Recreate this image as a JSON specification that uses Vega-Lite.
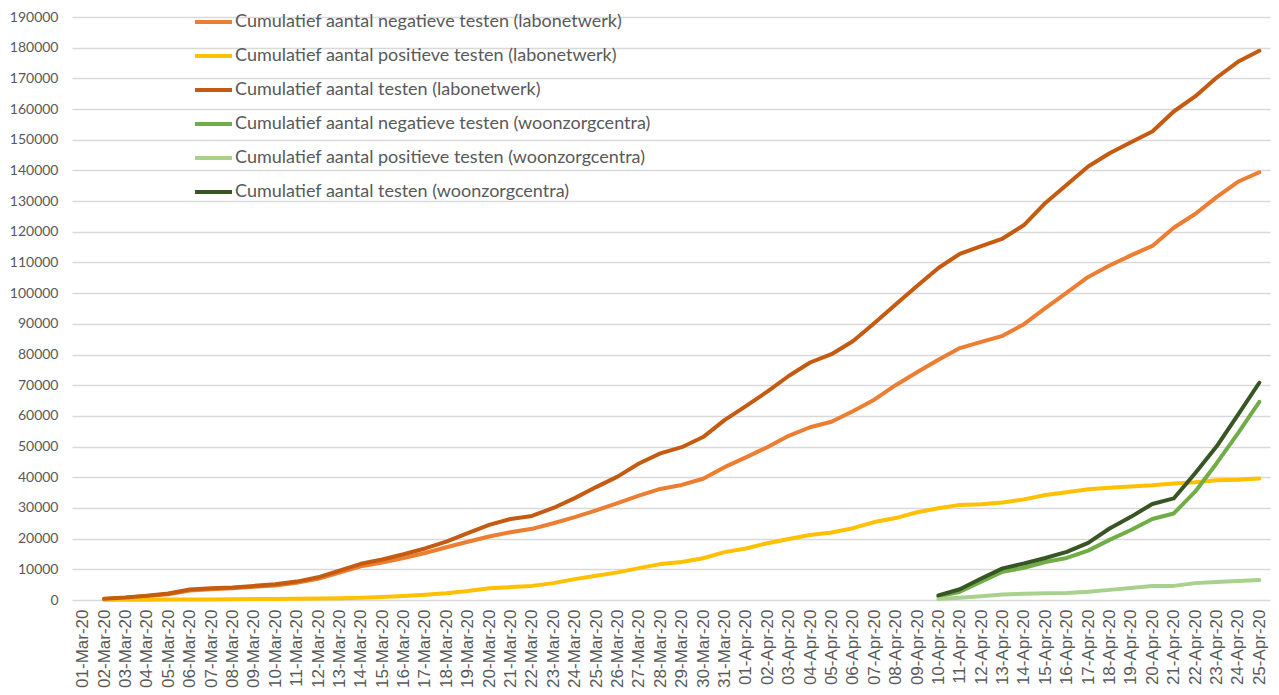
{
  "$schema": "https://vega.github.io/schema/vega-lite/v6.json",
  "width": 1198,
  "height": 583,
  "autosize": {"type": "none"},
  "padding": {"left": 72, "top": 17, "right": 9, "bottom": 95},
  "background": "white",
  "config": {"view": {"stroke": null}},
  "data": {"values": [
    {"d":"02-Mar-20","s":"nl","v":350},{"d":"03-Mar-20","s":"nl","v":700},{"d":"04-Mar-20","s":"nl","v":1300},{"d":"05-Mar-20","s":"nl","v":1900},{"d":"06-Mar-20","s":"nl","v":3100},{"d":"07-Mar-20","s":"nl","v":3500},{"d":"08-Mar-20","s":"nl","v":3800},{"d":"09-Mar-20","s":"nl","v":4300},{"d":"10-Mar-20","s":"nl","v":4750},{"d":"11-Mar-20","s":"nl","v":5600},{"d":"12-Mar-20","s":"nl","v":6900},{"d":"13-Mar-20","s":"nl","v":8900},{"d":"14-Mar-20","s":"nl","v":11000},{"d":"15-Mar-20","s":"nl","v":12200},{"d":"16-Mar-20","s":"nl","v":13700},{"d":"17-Mar-20","s":"nl","v":15300},{"d":"18-Mar-20","s":"nl","v":17200},{"d":"19-Mar-20","s":"nl","v":19000},{"d":"20-Mar-20","s":"nl","v":20700},{"d":"21-Mar-20","s":"nl","v":22100},{"d":"22-Mar-20","s":"nl","v":23200},{"d":"23-Mar-20","s":"nl","v":25000},{"d":"24-Mar-20","s":"nl","v":27000},{"d":"25-Mar-20","s":"nl","v":29200},{"d":"26-Mar-20","s":"nl","v":31600},{"d":"27-Mar-20","s":"nl","v":34000},{"d":"28-Mar-20","s":"nl","v":36200},{"d":"29-Mar-20","s":"nl","v":37500},{"d":"30-Mar-20","s":"nl","v":39500},{"d":"31-Mar-20","s":"nl","v":43300},{"d":"01-Apr-20","s":"nl","v":46500},{"d":"02-Apr-20","s":"nl","v":49800},{"d":"03-Apr-20","s":"nl","v":53500},{"d":"04-Apr-20","s":"nl","v":56300},{"d":"05-Apr-20","s":"nl","v":58100},{"d":"06-Apr-20","s":"nl","v":61500},{"d":"07-Apr-20","s":"nl","v":65300},{"d":"08-Apr-20","s":"nl","v":70000},{"d":"09-Apr-20","s":"nl","v":74200},{"d":"10-Apr-20","s":"nl","v":78300},{"d":"11-Apr-20","s":"nl","v":82100},{"d":"12-Apr-20","s":"nl","v":84100},{"d":"13-Apr-20","s":"nl","v":86100},{"d":"14-Apr-20","s":"nl","v":89900},{"d":"15-Apr-20","s":"nl","v":95100},{"d":"16-Apr-20","s":"nl","v":100200},{"d":"17-Apr-20","s":"nl","v":105300},{"d":"18-Apr-20","s":"nl","v":109000},{"d":"19-Apr-20","s":"nl","v":112300},{"d":"20-Apr-20","s":"nl","v":115400},{"d":"21-Apr-20","s":"nl","v":121300},{"d":"22-Apr-20","s":"nl","v":125800},{"d":"23-Apr-20","s":"nl","v":131300},{"d":"24-Apr-20","s":"nl","v":136300},{"d":"25-Apr-20","s":"nl","v":139400},
    {"d":"02-Mar-20","s":"pl","v":50},{"d":"03-Mar-20","s":"pl","v":60},{"d":"04-Mar-20","s":"pl","v":100},{"d":"05-Mar-20","s":"pl","v":150},{"d":"06-Mar-20","s":"pl","v":200},{"d":"07-Mar-20","s":"pl","v":200},{"d":"08-Mar-20","s":"pl","v":250},{"d":"09-Mar-20","s":"pl","v":300},{"d":"10-Mar-20","s":"pl","v":330},{"d":"11-Mar-20","s":"pl","v":400},{"d":"12-Mar-20","s":"pl","v":450},{"d":"13-Mar-20","s":"pl","v":600},{"d":"14-Mar-20","s":"pl","v":700},{"d":"15-Mar-20","s":"pl","v":1000},{"d":"16-Mar-20","s":"pl","v":1300},{"d":"17-Mar-20","s":"pl","v":1700},{"d":"18-Mar-20","s":"pl","v":2200},{"d":"19-Mar-20","s":"pl","v":2900},{"d":"20-Mar-20","s":"pl","v":3800},{"d":"21-Mar-20","s":"pl","v":4200},{"d":"22-Mar-20","s":"pl","v":4600},{"d":"23-Mar-20","s":"pl","v":5500},{"d":"24-Mar-20","s":"pl","v":6800},{"d":"25-Mar-20","s":"pl","v":7900},{"d":"26-Mar-20","s":"pl","v":9000},{"d":"27-Mar-20","s":"pl","v":10400},{"d":"28-Mar-20","s":"pl","v":11700},{"d":"29-Mar-20","s":"pl","v":12400},{"d":"30-Mar-20","s":"pl","v":13600},{"d":"31-Mar-20","s":"pl","v":15600},{"d":"01-Apr-20","s":"pl","v":16800},{"d":"02-Apr-20","s":"pl","v":18500},{"d":"03-Apr-20","s":"pl","v":19900},{"d":"04-Apr-20","s":"pl","v":21200},{"d":"05-Apr-20","s":"pl","v":22000},{"d":"06-Apr-20","s":"pl","v":23400},{"d":"07-Apr-20","s":"pl","v":25400},{"d":"08-Apr-20","s":"pl","v":26700},{"d":"09-Apr-20","s":"pl","v":28600},{"d":"10-Apr-20","s":"pl","v":29900},{"d":"11-Apr-20","s":"pl","v":31000},{"d":"12-Apr-20","s":"pl","v":31200},{"d":"13-Apr-20","s":"pl","v":31800},{"d":"14-Apr-20","s":"pl","v":32800},{"d":"15-Apr-20","s":"pl","v":34200},{"d":"16-Apr-20","s":"pl","v":35100},{"d":"17-Apr-20","s":"pl","v":36100},{"d":"18-Apr-20","s":"pl","v":36600},{"d":"19-Apr-20","s":"pl","v":37000},{"d":"20-Apr-20","s":"pl","v":37400},{"d":"21-Apr-20","s":"pl","v":38000},{"d":"22-Apr-20","s":"pl","v":38400},{"d":"23-Apr-20","s":"pl","v":39000},{"d":"24-Apr-20","s":"pl","v":39200},{"d":"25-Apr-20","s":"pl","v":39600},
    {"d":"02-Mar-20","s":"tl","v":400},{"d":"03-Mar-20","s":"tl","v":800},{"d":"04-Mar-20","s":"tl","v":1400},{"d":"05-Mar-20","s":"tl","v":2100},{"d":"06-Mar-20","s":"tl","v":3400},{"d":"07-Mar-20","s":"tl","v":3800},{"d":"08-Mar-20","s":"tl","v":4100},{"d":"09-Mar-20","s":"tl","v":4600},{"d":"10-Mar-20","s":"tl","v":5100},{"d":"11-Mar-20","s":"tl","v":6000},{"d":"12-Mar-20","s":"tl","v":7400},{"d":"13-Mar-20","s":"tl","v":9600},{"d":"14-Mar-20","s":"tl","v":11800},{"d":"15-Mar-20","s":"tl","v":13200},{"d":"16-Mar-20","s":"tl","v":14900},{"d":"17-Mar-20","s":"tl","v":16800},{"d":"18-Mar-20","s":"tl","v":19000},{"d":"19-Mar-20","s":"tl","v":21800},{"d":"20-Mar-20","s":"tl","v":24500},{"d":"21-Mar-20","s":"tl","v":26400},{"d":"22-Mar-20","s":"tl","v":27400},{"d":"23-Mar-20","s":"tl","v":30000},{"d":"24-Mar-20","s":"tl","v":33200},{"d":"25-Mar-20","s":"tl","v":36800},{"d":"26-Mar-20","s":"tl","v":40200},{"d":"27-Mar-20","s":"tl","v":44500},{"d":"28-Mar-20","s":"tl","v":47800},{"d":"29-Mar-20","s":"tl","v":49800},{"d":"30-Mar-20","s":"tl","v":53100},{"d":"31-Mar-20","s":"tl","v":58600},{"d":"01-Apr-20","s":"tl","v":63200},{"d":"02-Apr-20","s":"tl","v":67900},{"d":"03-Apr-20","s":"tl","v":73000},{"d":"04-Apr-20","s":"tl","v":77400},{"d":"05-Apr-20","s":"tl","v":80100},{"d":"06-Apr-20","s":"tl","v":84300},{"d":"07-Apr-20","s":"tl","v":90200},{"d":"08-Apr-20","s":"tl","v":96300},{"d":"09-Apr-20","s":"tl","v":102300},{"d":"10-Apr-20","s":"tl","v":108200},{"d":"11-Apr-20","s":"tl","v":112800},{"d":"12-Apr-20","s":"tl","v":115300},{"d":"13-Apr-20","s":"tl","v":117800},{"d":"14-Apr-20","s":"tl","v":122200},{"d":"15-Apr-20","s":"tl","v":129400},{"d":"16-Apr-20","s":"tl","v":135300},{"d":"17-Apr-20","s":"tl","v":141300},{"d":"18-Apr-20","s":"tl","v":145600},{"d":"19-Apr-20","s":"tl","v":149200},{"d":"20-Apr-20","s":"tl","v":152700},{"d":"21-Apr-20","s":"tl","v":159200},{"d":"22-Apr-20","s":"tl","v":164100},{"d":"23-Apr-20","s":"tl","v":170200},{"d":"24-Apr-20","s":"tl","v":175400},{"d":"25-Apr-20","s":"tl","v":179000},
    {"d":"10-Apr-20","s":"nw","v":1100},{"d":"11-Apr-20","s":"nw","v":2700},{"d":"12-Apr-20","s":"nw","v":6000},{"d":"13-Apr-20","s":"nw","v":9200},{"d":"14-Apr-20","s":"nw","v":10500},{"d":"15-Apr-20","s":"nw","v":12400},{"d":"16-Apr-20","s":"nw","v":13700},{"d":"17-Apr-20","s":"nw","v":16100},{"d":"18-Apr-20","s":"nw","v":19600},{"d":"19-Apr-20","s":"nw","v":22800},{"d":"20-Apr-20","s":"nw","v":26400},{"d":"21-Apr-20","s":"nw","v":28200},{"d":"22-Apr-20","s":"nw","v":35300},{"d":"23-Apr-20","s":"nw","v":44500},{"d":"24-Apr-20","s":"nw","v":54300},{"d":"25-Apr-20","s":"nw","v":64600},
    {"d":"10-Apr-20","s":"pw","v":300},{"d":"11-Apr-20","s":"pw","v":700},{"d":"12-Apr-20","s":"pw","v":1200},{"d":"13-Apr-20","s":"pw","v":1800},{"d":"14-Apr-20","s":"pw","v":2000},{"d":"15-Apr-20","s":"pw","v":2200},{"d":"16-Apr-20","s":"pw","v":2300},{"d":"17-Apr-20","s":"pw","v":2700},{"d":"18-Apr-20","s":"pw","v":3300},{"d":"19-Apr-20","s":"pw","v":3900},{"d":"20-Apr-20","s":"pw","v":4600},{"d":"21-Apr-20","s":"pw","v":4600},{"d":"22-Apr-20","s":"pw","v":5500},{"d":"23-Apr-20","s":"pw","v":5900},{"d":"24-Apr-20","s":"pw","v":6200},{"d":"25-Apr-20","s":"pw","v":6500},
    {"d":"10-Apr-20","s":"tw","v":1500},{"d":"11-Apr-20","s":"tw","v":3500},{"d":"12-Apr-20","s":"tw","v":7000},{"d":"13-Apr-20","s":"tw","v":10300},{"d":"14-Apr-20","s":"tw","v":11900},{"d":"15-Apr-20","s":"tw","v":13700},{"d":"16-Apr-20","s":"tw","v":15700},{"d":"17-Apr-20","s":"tw","v":18600},{"d":"18-Apr-20","s":"tw","v":23300},{"d":"19-Apr-20","s":"tw","v":27100},{"d":"20-Apr-20","s":"tw","v":31300},{"d":"21-Apr-20","s":"tw","v":33100},{"d":"22-Apr-20","s":"tw","v":41300},{"d":"23-Apr-20","s":"tw","v":50000},{"d":"24-Apr-20","s":"tw","v":60300},{"d":"25-Apr-20","s":"tw","v":70800}
  ]},
  "mark": {"type": "line", "strokeWidth": 4, "strokeCap": "round", "strokeJoin": "round"},
  "encoding": {
    "x": {
      "field": "d", "type": "ordinal",
      "scale": {"domain": ["01-Mar-20","02-Mar-20","03-Mar-20","04-Mar-20","05-Mar-20","06-Mar-20","07-Mar-20","08-Mar-20","09-Mar-20","10-Mar-20","11-Mar-20","12-Mar-20","13-Mar-20","14-Mar-20","15-Mar-20","16-Mar-20","17-Mar-20","18-Mar-20","19-Mar-20","20-Mar-20","21-Mar-20","22-Mar-20","23-Mar-20","24-Mar-20","25-Mar-20","26-Mar-20","27-Mar-20","28-Mar-20","29-Mar-20","30-Mar-20","31-Mar-20","01-Apr-20","02-Apr-20","03-Apr-20","04-Apr-20","05-Apr-20","06-Apr-20","07-Apr-20","08-Apr-20","09-Apr-20","10-Apr-20","11-Apr-20","12-Apr-20","13-Apr-20","14-Apr-20","15-Apr-20","16-Apr-20","17-Apr-20","18-Apr-20","19-Apr-20","20-Apr-20","21-Apr-20","22-Apr-20","23-Apr-20","24-Apr-20","25-Apr-20"], "padding": 0.5},
      "axis": {"title": null, "labelAngle": -90, "labelFont": "Liberation Sans", "labelFontSize": 17, "labelColor": "#595959", "labelPadding": 9, "ticks": false, "domain": false, "grid": false, "labelOverlap": false}
    },
    "y": {
      "field": "v", "type": "quantitative",
      "scale": {"domain": [0, 190000], "nice": false},
      "axis": {"title": null, "values": [0,10000,20000,30000,40000,50000,60000,70000,80000,90000,100000,110000,120000,130000,140000,150000,160000,170000,180000,190000], "format": "d", "labelFont": "Lato", "labelFontSize": 14, "labelColor": "#595959", "labelPadding": 14, "ticks": false, "domain": false, "grid": true, "gridColor": "#D9D9D9", "gridWidth": 1.5}
    },
    "color": {
      "field": "s", "type": "nominal",
      "scale": {"domain": ["nl","pl","tl","nw","pw","tw"], "range": ["#ED7D31","#FFC000","#C55A11","#70AD47","#A9D18E","#375623"]},
      "legend": {
        "title": null, "orient": "none", "legendX": 121, "legendY": -4,
        "symbolType": "stroke", "symbolSize": 1369, "symbolStrokeWidth": 4,
        "labelFont": "Lato", "labelFontSize": 18, "labelColor": "#595959", "labelOffset": 1, "labelLimit": 600,
        "rowPadding": 16, "clipHeight": 18,
        "labelExpr": "{'nl':'Cumulatief aantal negatieve  testen (labonetwerk)','pl':'Cumulatief aantal positieve  testen (labonetwerk)','tl':'Cumulatief aantal testen (labonetwerk)','nw':'Cumulatief aantal negatieve  testen (woonzorgcentra)','pw':'Cumulatief aantal positieve  testen (woonzorgcentra)','tw':'Cumulatief aantal testen (woonzorgcentra)'}[datum.value]"
      }
    }
  }
}
